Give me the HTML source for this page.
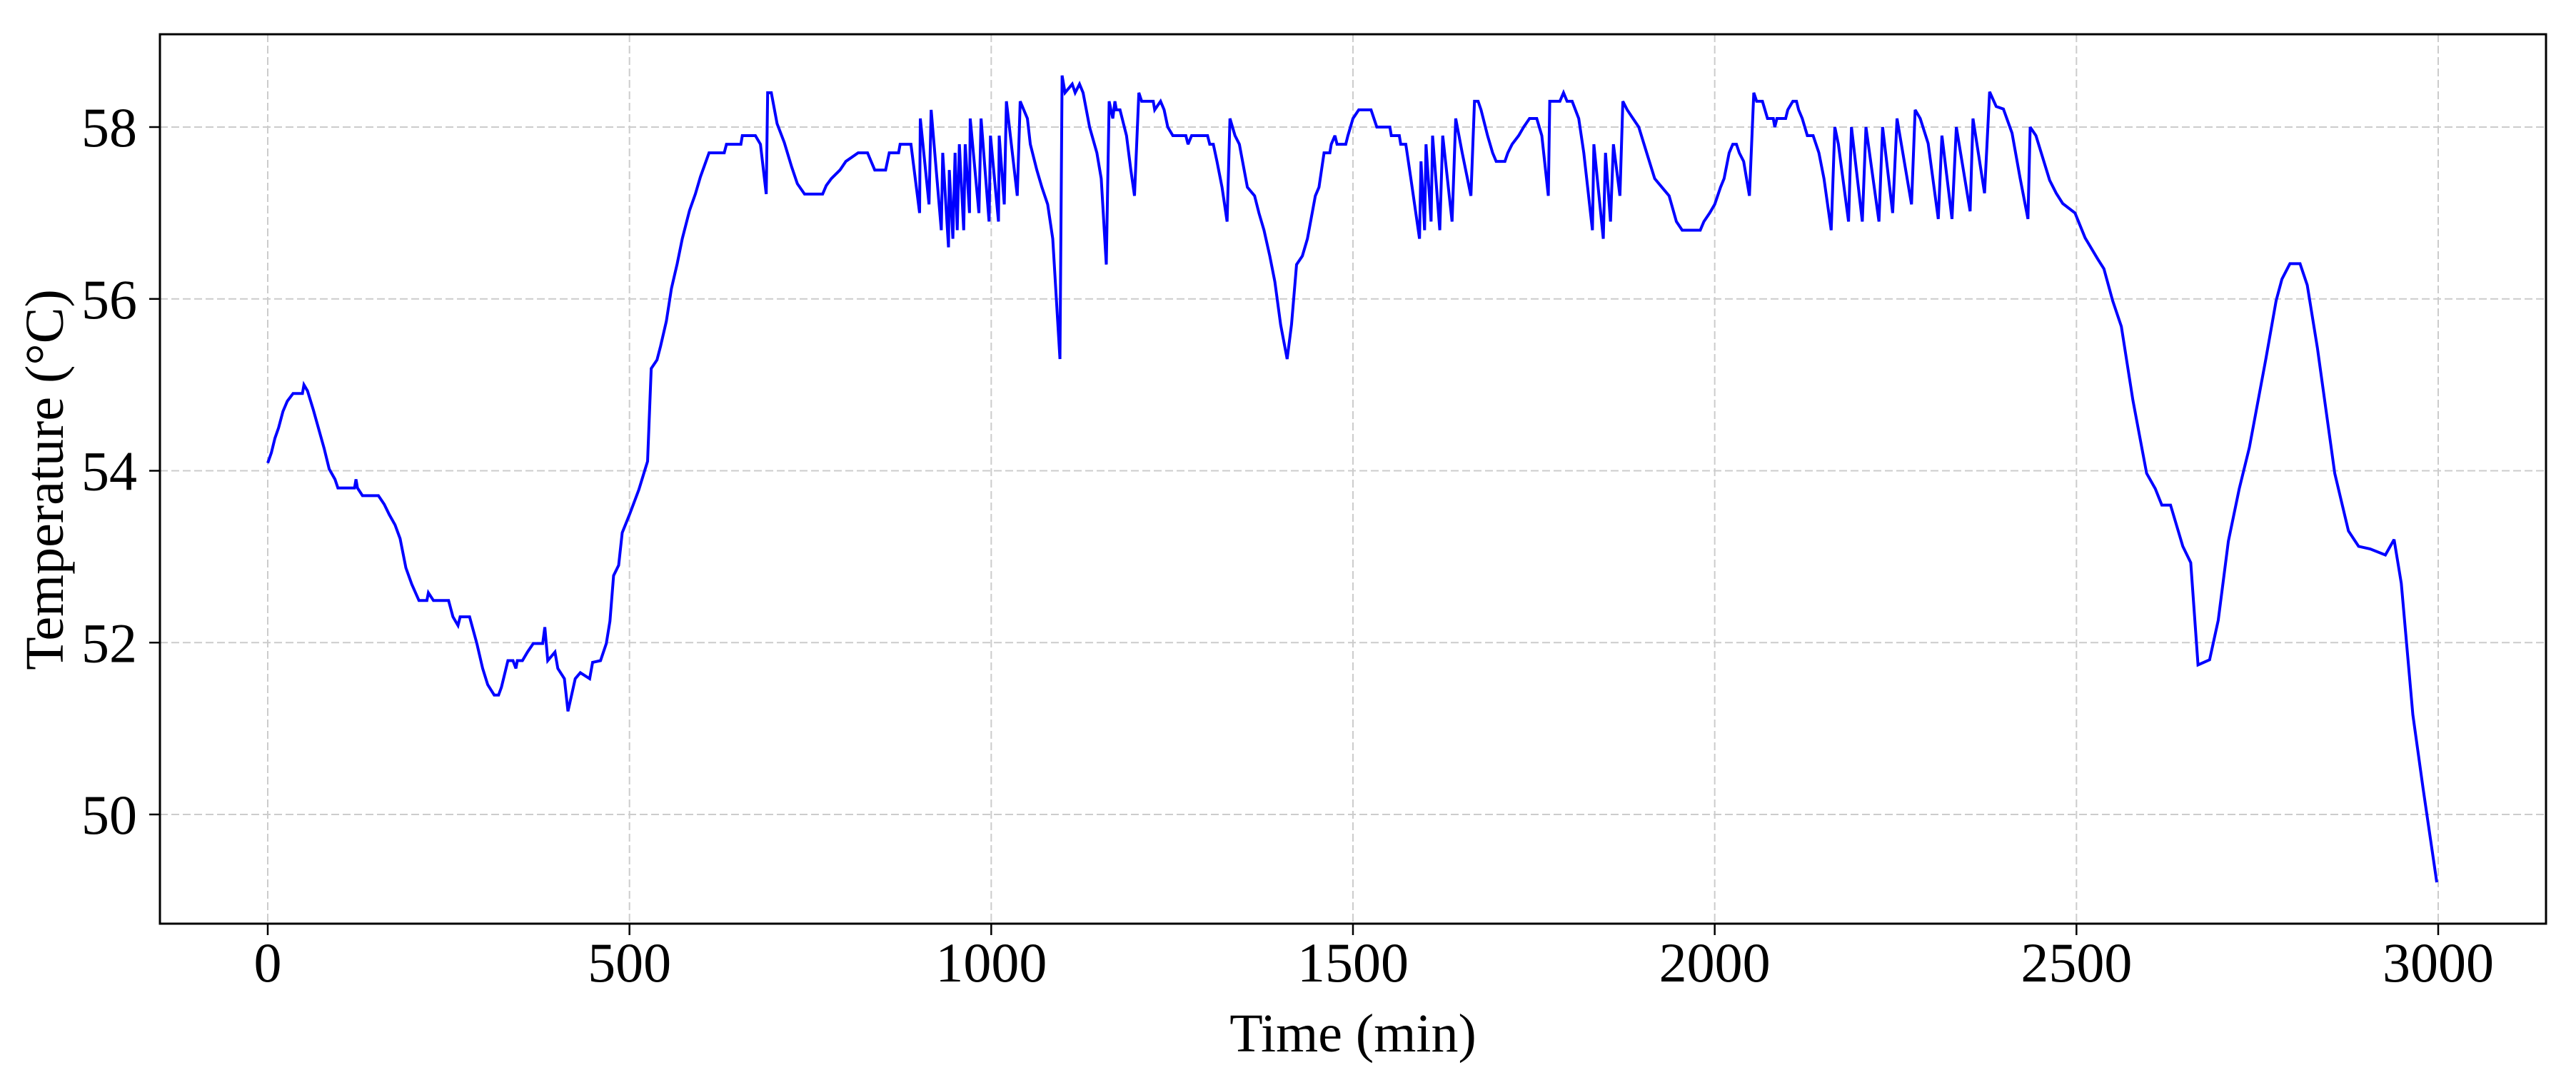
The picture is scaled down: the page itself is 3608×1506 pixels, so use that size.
<!DOCTYPE html>
<html><head><meta charset="utf-8">
<style>
html,body{margin:0;padding:0;background:#fff;}
svg{display:block;}
text{font-family:"Liberation Serif",serif;fill:#000;}
</style></head>
<body>
<svg id="chart" width="3608" height="1506" viewBox="0 0 3608 1506" xmlns="http://www.w3.org/2000/svg">
<g id="grid"></g>
<g id="series"></g>
<rect x="224" y="48" width="3342" height="1246" fill="none" stroke="#000" stroke-width="3"/>
<g id="axes"></g>
<text x="1895" y="1473" font-size="76" text-anchor="middle">Time (min)</text>
<text transform="translate(88,672) rotate(-90)" font-size="76" text-anchor="middle">Temperature (°C)</text>
</svg>
<script>
const xTicks = [0, 500, 1000, 1500, 2000, 2500, 3000];
const yTicks = [50, 52, 54, 56, 58];
const timeMin = [0,5,10,15,21,27,35,48,50,55,63,70,78,85,93,97,120,122,124,131,153,161,168,176,183,191,199,209,220,222,229,250,256,263,266,279,289,297,304,313,319,323,332,339,343,345,352,359,367,380,383,387,397,401,410,415,420,425,432,445,449,460,468,473,478,485,490,500,513,521,525,530,538,543,551,558,566,573,583,591,598,610,631,634,654,656,674,681,689,691,696,704,714,724,732,742,767,772,
779,791,799,816,829,834,839,854,859,872,874,889,901,902,914,917,931,933,941,942,947,950,953,956,962,964,970,971,983,986,997,999,1010,1011,1018,1021,1036,1040,1050,1054,1063,1070,1078,1085,1095,1098,1102,1112,1116,1122,1127,1136,1146,1152,1159,1163,1168,1171,1173,1178,1187,1193,1198,1204,1208,1224,1226,1234,1239,1244,1251,1269,1272,1277,1299,1302,1307,1312,1319,1326,1330,1337,1343,1354,1364,1370,1377,1385,1392,1400,1409,1415,1422,1430,1437,1448,1453,1460,1468,1470,1475,1478,1490,1493,1500,1508,1525,1533,1551,
1553,1564,1566,1573,1580,1592,1594,1599,1601,1608,1610,1620,1624,1637,1642,1651,1663,1668,1673,1677,1686,1693,1698,1710,1714,1720,1729,1736,1744,1754,1761,1770,1772,1786,1791,1796,1803,1812,1819,1831,1833,1846,1849,1856,1860,1869,1873,1879,1887,1895,1906,1917,1927,1937,1947,1955,1980,1985,1993,2000,2008,2013,2020,2025,2030,2034,2040,2048,2054,2058,2066,2073,2081,2083,2086,2098,2101,2108,2113,2116,2121,2128,2136,2144,2151,2161,2166,2171,2185,2189,2204,2209,2227,2232,2246,2252,2272,2277,2284,
2295,2309,2314,2328,2334,2353,2357,2373,2380,2389,2399,2411,2422,2433,2436,2444,2463,2472,2481,2498,2512,2529,2538,2550,2562,2578,2597,2609,2618,2630,2647,2658,2668,2684,2696,2710,2725,2739,2762,2776,2784,2795,2809,2819,2833,2857,2876,2890,2906,2927,2939,2949,2965,2979,2998];
const tempC = [54.09,54.21,54.38,54.5,54.69,54.81,54.9,54.9,55.0,54.93,54.71,54.5,54.26,54.02,53.9,53.8,53.8,53.9,53.8,53.71,53.71,53.61,53.49,53.37,53.21,52.87,52.68,52.49,52.49,52.58,52.49,52.49,52.3,52.2,52.3,52.3,51.99,51.7,51.51,51.39,51.39,51.48,51.79,51.79,51.7,51.79,51.79,51.89,51.99,51.99,52.18,51.79,51.89,51.7,51.58,51.2,51.39,51.58,51.65,51.58,51.77,51.79,51.99,52.25,52.78,52.9,53.28,53.49,53.78,54.0,54.11,55.19,55.29,55.45,55.74,56.12,56.41,56.7,57.03,57.22,57.42,57.7,57.7,57.8,57.8,57.9,57.9,57.8,57.22,58.4,58.4,58.04,57.82,57.54,57.34,57.22,57.22,57.32,
57.4,57.5,57.6,57.7,57.7,57.6,57.5,57.5,57.7,57.7,57.8,57.8,57.0,58.1,57.1,58.2,56.8,57.7,56.6,57.5,56.7,57.7,56.8,57.8,56.8,57.8,57.0,58.1,57.0,58.1,56.9,57.9,56.9,57.9,57.1,58.3,57.2,58.3,58.1,57.8,57.5,57.3,57.1,56.7,55.3,58.6,58.4,58.5,58.4,58.5,58.4,58.0,57.7,57.4,56.4,58.3,58.1,58.3,58.2,58.2,57.9,57.5,57.2,58.4,58.3,58.3,58.2,58.3,58.2,58.0,57.9,57.9,57.8,57.9,57.9,57.8,57.8,57.6,57.3,56.9,58.1,57.9,57.8,57.3,57.2,57.0,56.8,56.5,56.2,55.7,55.3,55.7,56.4,56.5,56.7,57.2,57.3,57.7,57.7,57.8,57.9,57.8,57.8,57.9,58.1,58.2,58.2,58.0,58.0,
57.9,57.9,57.8,57.8,57.4,56.7,57.6,56.8,57.8,56.9,57.9,56.8,57.9,56.9,58.1,57.7,57.2,58.3,58.3,58.2,57.9,57.7,57.6,57.6,57.7,57.8,57.9,58.0,58.1,58.1,57.9,57.2,58.3,58.3,58.4,58.3,58.3,58.1,57.7,56.8,57.8,56.7,57.7,56.9,57.8,57.2,58.3,58.2,58.1,58.0,57.7,57.4,57.3,57.2,56.9,56.8,56.8,56.9,57.0,57.1,57.3,57.4,57.7,57.8,57.8,57.7,57.6,57.2,58.4,58.3,58.3,58.1,58.1,58.0,58.1,58.1,58.2,58.3,58.3,58.2,58.1,57.9,57.9,57.7,57.4,56.8,58.0,57.8,56.9,58.0,56.9,58.0,56.9,58.0,57.0,58.1,57.1,58.2,58.1,
57.81,56.93,57.9,56.93,58.0,57.02,58.1,57.23,58.41,58.24,58.21,57.93,57.41,56.93,58.0,57.9,57.38,57.23,57.11,57.0,56.71,56.47,56.35,55.98,55.68,54.82,53.97,53.79,53.6,53.6,53.12,52.93,51.74,51.8,52.26,53.18,53.79,54.27,55.31,55.98,56.23,56.41,56.41,56.16,55.43,53.97,53.3,53.12,53.09,53.02,53.2,52.69,51.16,50.31,49.21];

const NS = 'http://www.w3.org/2000/svg';
const X0 = 375, XK = (3415 - 375) / 3000;
const Y58 = 178, YK = (1141 - 178) / 8;
function sx(v){ return X0 + v * XK; }
function sy(v){ return Y58 + (58 - v) * YK; }
function mk(tag, attrs){ const e = document.createElementNS(NS, tag); for (const k in attrs) e.setAttribute(k, attrs[k]); return e; }

const grid = document.getElementById('grid');
const axes = document.getElementById('axes');
xTicks.forEach(t => {
  const gl = mk('line', {x1: sx(t), x2: sx(t), y1: 48, y2: 1294, stroke: '#cccccc', 'stroke-width': 2, 'stroke-dasharray': '11,5'});
  
  
  grid.appendChild(gl);
  const tk = mk('line', {x1: sx(t), x2: sx(t), y1: 1294, y2: 1310, stroke: '#000', 'stroke-width': 2.5});
  
  
  axes.appendChild(tk);
  const lb = mk('text', {x: sx(t), y: 1375, 'font-size': 78, 'text-anchor': 'middle'});
  lb.textContent = String(t);
  
  
  axes.appendChild(lb);
});
yTicks.forEach(t => {
  const gl = mk('line', {x1: 224, x2: 3566, y1: sy(t), y2: sy(t), stroke: '#cccccc', 'stroke-width': 2, 'stroke-dasharray': '11,5'});
  
  
  grid.appendChild(gl);
  const tk = mk('line', {x1: 209, x2: 224, y1: sy(t), y2: sy(t), stroke: '#000', 'stroke-width': 2.5});
  
  
  axes.appendChild(tk);
  const lb = mk('text', {x: 192, y: sy(t) + 27, 'font-size': 78, 'text-anchor': 'end'});
  lb.textContent = String(t);
  
  
  axes.appendChild(lb);
});

let d = '';
for (let i = 0; i < timeMin.length; i++) {
  d += (i ? 'L' : 'M') + sx(timeMin[i]).toFixed(1) + ',' + sy(tempC[i]).toFixed(1);
}
const path = mk('path', {d: d, fill: 'none', stroke: '#0000ff', 'stroke-width': 4, 'stroke-linejoin': 'miter', 'stroke-miterlimit': 3});


document.getElementById('series').appendChild(path);
</script>
</body></html>
